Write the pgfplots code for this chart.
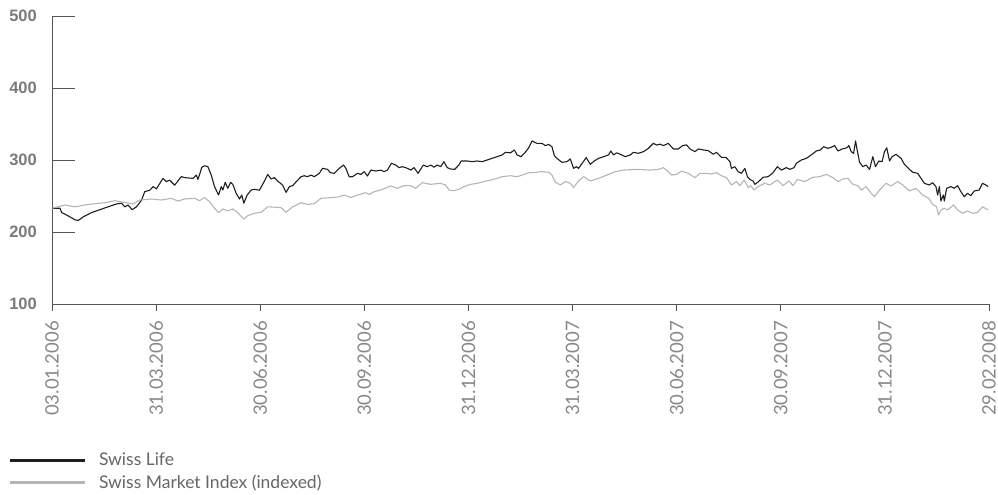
\documentclass[border=0pt]{standalone}
\usepackage{pgfplots}
\pgfplotsset{compat=1.18}
\usepackage{fontspec}
\setmainfont{Lato}
\newfontfamily\ylabfont{Liberation Sans}
\definecolor{axisgray}{HTML}{555555}
\definecolor{labgray}{HTML}{888888}
\definecolor{ylabgray}{HTML}{7A7A7A}
\definecolor{leggray}{HTML}{666666}
\definecolor{slife}{HTML}{1E1E1E}
\definecolor{smi}{HTML}{B5B5B5}
\begin{document}
\begin{tikzpicture}
\begin{axis}[
  scale only axis, width=937pt, height=288pt,
  xmin=52, xmax=991.5, ymin=100, ymax=500,
  clip=false,
  axis x line*=bottom, axis y line*=left,
  axis line style={axisgray, line width=0.9pt},
  ytick={100,200,300,400,500}, yticklabels={100,200,300,400,500},
  ytick align=inside, major tick length=23pt,
  ytick style={axisgray, line width=0.9pt},
  xtick={52,156.4,260.8,365.2,469.6,574,678.3,782.7,887.1,991.5},
  xticklabels={03.01.2006,31.03.2006,30.06.2006,30.09.2006,31.12.2006,31.03.2007,30.06.2007,30.09.2007,31.12.2007,29.02.2008},
  xtick style={draw=none},
  xticklabel shift=17pt, yticklabel shift=15pt,
  xticklabel style={rotate=90, anchor=east, font=\fontsize{18.5}{21}\selectfont, text=labgray, inner sep=0pt},
  yticklabel style={font=\ylabfont\bfseries\fontsize{16.5}{18}\selectfont, text=ylabgray, inner sep=0pt},
  legend style={at={(-0.0448,-0.5104)}, anchor=north west, draw=none, fill=none,
    inner sep=0pt, outer sep=0pt, font=\fontsize{17.5}{20}\selectfont, text=leggray,
    nodes={inner sep=2pt}, row sep=4pt,
    /tikz/every odd column/.append style={column sep=12pt}},
  legend cell align=left,
  legend image code/.code={\fill[#1, draw=none] (0pt,-1.4pt) rectangle (75pt,1.4pt);},
]
\addplot[slife, line width=1.1pt, line join=round] coordinates {
(52,233) (53.3,233) (60,233) (61.7,227) (66,224) (70,221) (75,217) (78.3,216) (83.3,221) (91.7,227)
(100,231) (108.3,235) (116.7,239) (121.7,240) (125,235) (128.3,237.5) (132.3,231) (136.7,235) (141.7,244) (145,256)
(150,258) (153.3,263) (156.7,260) (163.3,274.5) (166.7,270) (170,272) (175,265) (181.7,277) (185,275.5) (193.3,274.5)
(196.7,279) (198.3,273) (202.3,290) (205,292) (208.3,290.7) (211.7,279) (215,263) (219,251.4) (221.7,263) (223.3,258.3)
(225.7,269) (228.3,260.7) (231,269) (233.3,266) (236.7,253.7) (240,245.8) (242.3,251.4) (244.3,240) (247.7,251.4) (251.7,258.3)
(255,259.3) (260,258) (264.3,269) (268.3,280) (271.7,273.6) (275,275.5) (278.3,270.8) (283.3,265) (286.7,255) (290,263)
(293.3,264.4) (298.3,272) (301.7,276.8) (305,278.2) (308,276.8) (311.7,279) (315,276.8) (320,281.5) (323.3,288.4) (328.3,287)
(331,282.4) (335,281.5) (340,288.4) (344.3,293) (346.7,288.4) (350,276.8) (353.3,276.8) (358.3,281.5) (361.7,280) (365,283.8)
(368.3,277.8) (371.7,286) (376.7,284.7) (381.7,286) (385,283.8) (388.3,286) (392.3,295.4) (396.7,293) (400,289.4) (403.3,290.7)
(406.7,289.4) (411.7,286) (415,289.4) (419,281.5) (424.3,293) (428.3,290.7) (431.7,293) (435,290) (438.3,293) (441.7,290.7)
(445,297.7) (448.3,289.4) (451.7,287.5) (455.7,287) (460,293) (462.3,298.6) (468.3,298.6) (473.3,297.7) (478.3,298.6) (483.3,297.7)
(488.3,300) (493.3,302.3) (498.3,304.6) (503.3,307) (506.7,310.6) (511.7,310) (515.7,313.9) (518.3,307) (522.3,304.6) (526.7,311)
(530,317) (533.3,326.4) (538.3,323.1) (543.3,323.1) (546.7,320) (550,321.7) (553.3,318.5) (555.7,306) (558.3,302.3) (563.3,296.8)
(568.3,297.7) (571.7,301.4) (575,288.4) (577.7,290.7) (580,288.4) (584.3,296.8) (587.7,303.3) (591.7,294) (595.7,298.6) (600,302.3)
(605,304.6) (610,307) (612.3,312.5) (615,307) (618.3,310) (623.3,307) (626.7,304.6) (631.7,307) (635,310.6) (640,309.3)
(645,311.6) (650,316.2) (655,323.1) (658.3,320.8) (661.7,322) (665,320) (670,323.1) (675,315.3) (680,315.3) (684.3,320)
(688.3,321) (691.7,315.3) (696.7,311.6) (700,315.3) (705,314) (710,313) (715,308) (718.3,310.6) (723.3,303.7) (727.7,303.7)
(731.7,297.7) (733.3,288.4) (736.7,290.7) (740,283.8) (743.3,281.5) (746.7,288.4) (749.3,276.8) (751.7,273) (755,270.8) (756.7,266.2)
(760,269.4) (765,276) (770,276.8) (774.3,281.5) (779.3,290.7) (783.3,286) (788.3,289.4) (791.7,287) (796,289.4) (798.3,295.4)
(803.3,300) (808.3,302.3) (813.3,307) (818.3,312.5) (822.3,313.9) (825.7,318.5) (830,316.2) (833.3,317.6) (836.7,320) (840,312.5)
(844.3,315.3) (849,317) (851,320) (853.3,311.6) (855.7,309.3) (857.7,326.4) (859,316.2) (861.7,296.8) (865,290.7) (868.3,293)
(871.7,287) (875,304.6) (877.7,290.7) (881,298.6) (884.3,297.7) (886.7,311.6) (889,317) (891.7,298.6) (894.3,304.6) (898.3,307.9)
(903.3,302.3) (906.7,294) (911.7,287) (915,283) (920,281.5) (923.3,274.5) (926.7,267.6) (931.7,265.3) (935,268.5) (938.3,263)
(940,251.4) (941.7,263) (943.3,243) (945.7,251.4) (946.7,243) (949,260.7) (953.3,263) (956.7,260.7) (960,264.4) (963.3,256)
(966.7,249) (970,253.7) (973.3,250.5) (976.7,257) (981.7,258.3) (985,267.6) (988.3,265.3) (990.7,263)
};
\addlegendentry{Swiss Life}
\addplot[smi, line width=1.1pt, line join=round] coordinates {
(52,233) (65,237.5) (75,235) (85,237.5) (95,239.3) (105,240.7) (115,243.5) (125,241) (133.3,239) (140,244.4)
(151.7,245.8) (161.7,244.4) (171.7,246.8) (178.3,243) (185,245.8) (195,246.8) (200,243.5) (205,247.7) (210,242) (215,233)
(219,226.8) (223.3,232) (228.3,229.2) (233.3,232) (238.3,226.8) (244.3,218) (248.3,222.7) (255,226) (261.7,227.3) (268.3,235)
(275,234.5) (281.7,233.8) (286.7,227.3) (293.3,235) (301.7,240.7) (308.3,238.4) (315,239.3) (321.7,246.8) (331.7,247.7) (340,249)
(345,251.4) (351.7,247.7) (358.3,251.4) (366.7,254.6) (370,252.3) (375,256) (381.7,258.3) (391.7,264) (398.3,260.7) (405,264.4)
(411.7,264.4) (416.7,260.7) (423.3,268.5) (431.7,266.2) (441.7,267.6) (446.7,265.3) (450,258.3) (455,257.4) (460,259.3) (465,263)
(471.7,266.2) (478.3,267.6) (485,270) (491.7,272.2) (498.3,274.5) (503.3,276.8) (511.7,278.2) (518.3,276.8) (523.3,279) (530,282.4)
(535,282.4) (541.7,283.8) (550,283) (553.3,279) (556.7,269) (561.7,265.3) (566.7,270) (571.7,267.6) (575,261.6) (580,271)
(585,276.8) (591.7,271) (600,274.5) (608.3,279) (616.7,283.8) (625,286) (638.3,287) (651.7,286) (660,287) (665,289.4)
(670,283.8) (673.3,279) (678.3,280) (683.3,284.7) (690,281.5) (696.7,275.5) (701.7,281.5) (708.3,281.5) (713.3,280.5) (718.3,282.4)
(723.3,278.2) (728.3,275.5) (733.3,265.3) (738.3,270) (741.7,264.4) (746,272.2) (750,261.6) (752.7,264.4) (756,258.3) (760,263)
(766.7,267.6) (771.7,265.3) (779.3,272.2) (785,264.4) (791,271) (795,264.4) (799.3,273) (806.7,270) (815,276) (821.7,276.8)
(828.3,280) (835,275.5) (840,270) (845,273.6) (850,274.5) (855,266.2) (860,264.4) (863.3,258.3) (868.3,263) (873.3,253.7)
(876.7,249) (881.7,258.3) (888.3,267.6) (893.3,263.9) (900,270) (905,265.3) (911.7,257) (918.3,260.7) (925,251.4) (931,246.8)
(935,238.4) (939,235) (941,223.6) (943.3,230.6) (946.7,233) (950,230.6) (956,237.5) (960,230.6) (965,226) (970,229.2)
(975,226) (980,227.3) (985,235) (990.7,230.6)
};
\addlegendentry{Swiss Market Index (indexed)}
\draw[axisgray, line width=0.9pt]
  (axis cs:52,100) -- ++(0pt,-7pt) (axis cs:156.4,100) -- ++(0pt,-7pt) (axis cs:260.8,100) -- ++(0pt,-7pt)
  (axis cs:365.2,100) -- ++(0pt,-7pt) (axis cs:469.6,100) -- ++(0pt,-7pt) (axis cs:574,100) -- ++(0pt,-7pt)
  (axis cs:678.3,100) -- ++(0pt,-7pt) (axis cs:782.7,100) -- ++(0pt,-7pt) (axis cs:887.1,100) -- ++(0pt,-7pt)
  (axis cs:991.5,100) -- ++(0pt,-7pt);
\coordinate (bbsw) at ([xshift=-52pt,yshift=-191pt]rel axis cs:0,0);
\coordinate (bbne) at ([xshift=9pt,yshift=16pt]rel axis cs:1,1);
\end{axis}
\pgfresetboundingbox
\useasboundingbox (bbsw) rectangle (bbne);
\end{tikzpicture}
\end{document}
